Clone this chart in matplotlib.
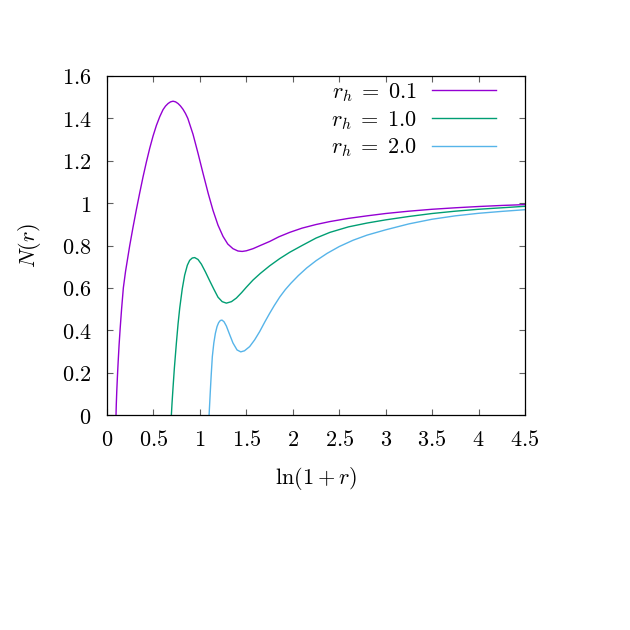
import numpy as np
import matplotlib
matplotlib.use('Agg')
import matplotlib.pyplot as plt

plt.rcParams['mathtext.fontset'] = 'cm'
plt.rcParams['font.family'] = 'serif'

# values, x = ln(1+r)
x_01 = [0.097, 0.100, 0.105, 0.112, 0.120, 0.130, 0.142, 0.157, 0.176, 0.200,
        0.244, 0.280, 0.316, 0.352, 0.388, 0.424, 0.460, 0.496, 0.532, 0.568,
        0.603, 0.630, 0.657, 0.684, 0.711, 0.738, 0.765, 0.790, 0.818, 0.845,
        0.870, 0.926, 0.980, 1.033, 1.090, 1.141, 1.195, 1.249, 1.300, 1.356,
        1.410, 1.455, 1.500, 1.572, 1.650, 1.751, 1.850, 1.967, 2.100, 2.250,
        2.400, 2.600, 2.800, 3.000, 3.250, 3.500, 3.750, 4.000, 4.250, 4.500]
N_01 = [0.000, 0.050, 0.110, 0.180, 0.250, 0.330, 0.410, 0.500, 0.600, 0.679,
        0.798, 0.886, 0.969, 1.048, 1.124, 1.194, 1.259, 1.317, 1.367, 1.408,
        1.441, 1.458, 1.470, 1.478, 1.481, 1.478, 1.470, 1.459, 1.443, 1.423,
        1.400, 1.325, 1.235, 1.142, 1.045, 0.966, 0.896, 0.843, 0.807, 0.785,
        0.774, 0.772, 0.775, 0.785, 0.800, 0.819, 0.841, 0.862, 0.882, 0.899,
        0.913, 0.928, 0.940, 0.951, 0.962, 0.971, 0.978, 0.984, 0.989, 0.993]

x_10 = [0.693, 0.700, 0.711, 0.725, 0.747, 0.765, 0.783, 0.810, 0.836, 0.865,
        0.890, 0.918, 0.944, 0.980, 1.016, 1.060, 1.106, 1.150, 1.195, 1.240,
        1.285, 1.340, 1.393, 1.450, 1.500, 1.572, 1.650, 1.751, 1.859, 1.967,
        2.100, 2.250, 2.400, 2.600, 2.800, 3.000, 3.250, 3.500, 3.750, 4.000,
        4.250, 4.500]
N_10 = [0.000, 0.055, 0.130, 0.220, 0.340, 0.430, 0.505, 0.595, 0.660, 0.707,
        0.730, 0.741, 0.743, 0.734, 0.712, 0.675, 0.633, 0.594, 0.556, 0.535,
        0.528, 0.535, 0.552, 0.578, 0.603, 0.637, 0.668, 0.704, 0.738, 0.768,
        0.800, 0.835, 0.862, 0.888, 0.906, 0.921, 0.937, 0.951, 0.962, 0.971,
        0.978, 0.985]

x_20 = [1.099, 1.105, 1.113, 1.122, 1.134, 1.150, 1.167, 1.185, 1.202, 1.220,
        1.238, 1.260, 1.285, 1.320, 1.356, 1.400, 1.440, 1.480, 1.536, 1.590,
        1.644, 1.700, 1.750, 1.800, 1.860, 1.920, 1.980, 2.060, 2.150, 2.250,
        2.370, 2.500, 2.650, 2.800, 3.000, 3.250, 3.500, 3.750, 4.000, 4.250,
        4.500]
N_20 = [0.000, 0.050, 0.118, 0.190, 0.276, 0.340, 0.386, 0.418, 0.436, 0.446,
        0.448, 0.440, 0.420, 0.380, 0.340, 0.307, 0.298, 0.303, 0.323, 0.355,
        0.394, 0.440, 0.479, 0.516, 0.557, 0.592, 0.622, 0.658, 0.694, 0.728,
        0.763, 0.795, 0.825, 0.849, 0.874, 0.902, 0.924, 0.940, 0.952, 0.961,
        0.969]

labels = [r'$r_h\;=\;0.1$', r'$r_h\;=\;1.0$', r'$r_h\;=\;2.0$']
colors = ['#9400d3', '#009e73', '#56b4e9']

xticks = [0, 0.5, 1, 1.5, 2, 2.5, 3, 3.5, 4, 4.5]
yticks = [0, 0.2, 0.4, 0.6, 0.8, 1, 1.2, 1.4, 1.6]

fig = plt.figure(figsize=(6.3, 6.3), dpi=100, facecolor='white')
ax = fig.add_axes([107/630, 1 - 415/630, 418/630, 339/630])

for xs, ys, lab, c in zip([x_01, x_10, x_20], [N_01, N_10, N_20], labels, colors):
    ax.plot(xs, ys, color=c, lw=1.0, label=lab)

ax.set_xlim(0, 4.5)
ax.set_ylim(0, 1.6)
ax.set_xticks(xticks, labels=['$%g$' % t for t in xticks])
ax.set_yticks(yticks, labels=['$%g$' % t for t in yticks])
ax.tick_params(direction='in', length=4.5, width=0.8, color='#606060',
               labelsize=16, top=True, right=True, pad=10)
ax.tick_params(axis='y', pad=11)
for s in ax.spines.values():
    s.set_linewidth(0.9)

ax.set_xlabel(r'$\ln(1+r)$', fontsize=16, labelpad=10)
ax.set_ylabel(r'$N(r)$', fontsize=16, labelpad=14)

ax.legend(loc='upper right', bbox_to_anchor=(0.9306, 0.985), frameon=False,
          markerfirst=False, fontsize=16, handlelength=2.9,
          handletextpad=0.65, labelspacing=0.22, borderpad=0,
          borderaxespad=0)

plt.savefig('out.png', dpi=100)
